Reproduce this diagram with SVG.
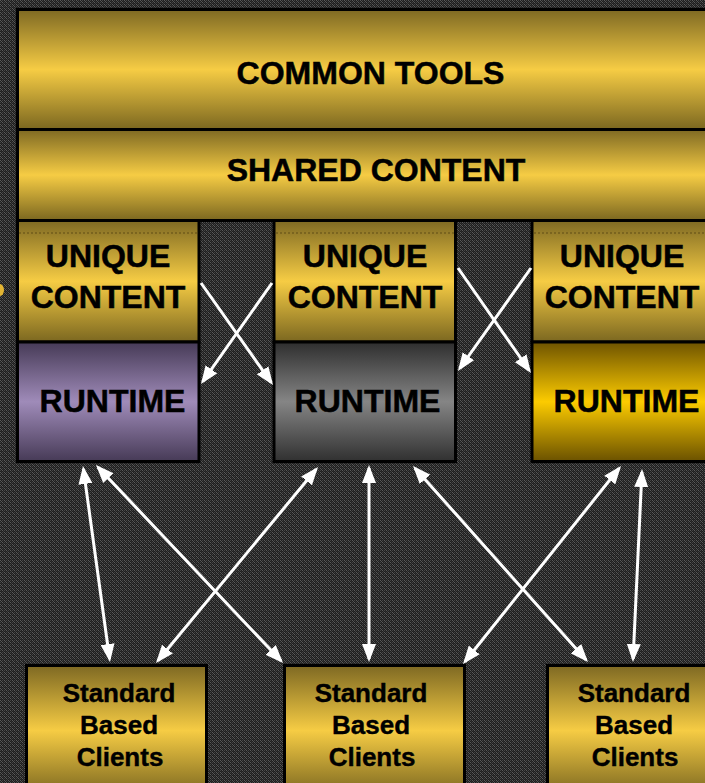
<svg xmlns="http://www.w3.org/2000/svg" width="705" height="783" viewBox="0 0 705 783">
  <defs>
    <pattern id="grain" width="4" height="4" patternUnits="userSpaceOnUse">
      <rect width="4" height="4" fill="#1e1e1e"/>
      <rect x="0" y="0" width="1" height="1" fill="#5a5a5a"/>
      <rect x="2" y="0" width="1" height="1" fill="#444444"/>
      <rect x="1" y="1" width="1" height="1" fill="#555555"/>
      <rect x="3" y="1" width="1" height="1" fill="#303030"/>
      <rect x="0" y="2" width="1" height="1" fill="#444444"/>
      <rect x="2" y="2" width="1" height="1" fill="#5a5a5a"/>
      <rect x="3" y="3" width="1" height="1" fill="#404040"/>
      <rect x="1" y="3" width="1" height="1" fill="#2c2c2c"/>
    </pattern>
    <linearGradient id="gold" x1="0" y1="0" x2="0" y2="1">
      <stop offset="0" stop-color="#7e6923"/>
      <stop offset="0.5" stop-color="#f6cc44"/>
      <stop offset="1" stop-color="#7b6720"/>
    </linearGradient>
    <linearGradient id="purple" x1="0" y1="0" x2="0" y2="1">
      <stop offset="0" stop-color="#463a56"/>
      <stop offset="0.5" stop-color="#9f8bb9"/>
      <stop offset="1" stop-color="#463a56"/>
    </linearGradient>
    <linearGradient id="grey" x1="0" y1="0" x2="0" y2="1">
      <stop offset="0" stop-color="#2e2e2e"/>
      <stop offset="0.5" stop-color="#858585"/>
      <stop offset="1" stop-color="#303030"/>
    </linearGradient>
    <linearGradient id="amber" x1="0" y1="0" x2="0" y2="1">
      <stop offset="0" stop-color="#6e5300"/>
      <stop offset="0.5" stop-color="#fccb00"/>
      <stop offset="1" stop-color="#6a5100"/>
    </linearGradient>
    <marker id="head" viewBox="0 0 18 14" markerWidth="18" markerHeight="14" refX="15" refY="7" markerUnits="userSpaceOnUse" orient="auto-start-reverse">
      <path d="M0,0 L18,7 L0,14 z" fill="#ffffff"/>
    </marker>
  </defs>
  <style>
    .box { stroke: #000000; stroke-width: 3; }
    .big { font-family: "Liberation Sans", Arial, sans-serif; font-weight: bold; font-size: 32px; fill: #000000; stroke: #000000; stroke-width: 0.5; text-anchor: middle; }
    .small { font-family: "Liberation Sans", Arial, sans-serif; font-weight: bold; font-size: 26px; fill: #000000; stroke: #000000; stroke-width: 0.4; text-anchor: middle; }
    .seam { stroke: #5e4c14; stroke-width: 1; stroke-dasharray: 2 2; fill: none; }
    .link { stroke: #ffffff; stroke-width: 3; fill: none; }
  </style>

  <rect width="705" height="783" fill="url(#grain)"/>

  <!-- small cut-off shape at the left edge -->
  <ellipse cx="0" cy="290" rx="4" ry="6" fill="#e3b533"/>

  <g id="common-tools">
    <rect class="box" x="17.5" y="9.5" width="700" height="120" fill="url(#gold)"/>
    <text class="big" x="370.5" y="84">COMMON TOOLS</text>
  </g>

  <g id="shared-content">
    <rect class="box" x="17.5" y="129.5" width="700" height="91" fill="url(#gold)"/>
    <text class="big" x="376" y="181">SHARED CONTENT</text>
  </g>

  <g id="unique-content-1">
    <rect class="box" x="17.5" y="220.5" width="181.5" height="121.5" fill="url(#gold)"/>
    <line class="seam" x1="19" y1="233" x2="197" y2="233"/>
    <text class="big" x="108" y="267">UNIQUE</text>
    <text class="big" x="108" y="308">CONTENT</text>
  </g>
  <g id="unique-content-2">
    <rect class="box" x="274" y="220.5" width="181.5" height="121.5" fill="url(#gold)"/>
    <line class="seam" x1="276" y1="233" x2="454" y2="233"/>
    <text class="big" x="365" y="267">UNIQUE</text>
    <text class="big" x="365" y="308">CONTENT</text>
  </g>
  <g id="unique-content-3">
    <rect class="box" x="532" y="220.5" width="181.5" height="121.5" fill="url(#gold)"/>
    <line class="seam" x1="534" y1="233" x2="712" y2="233"/>
    <text class="big" x="622" y="267">UNIQUE</text>
    <text class="big" x="622" y="308">CONTENT</text>
  </g>

  <g id="runtime-1">
    <rect class="box" x="17.5" y="342" width="181.5" height="119.5" fill="url(#purple)"/>
    <text class="big" x="112.5" y="412">RUNTIME</text>
  </g>
  <g id="runtime-2">
    <rect class="box" x="274" y="342" width="181.5" height="119.5" fill="url(#grey)"/>
    <text class="big" x="367.5" y="412">RUNTIME</text>
  </g>
  <g id="runtime-3">
    <rect class="box" x="532" y="342" width="181.5" height="119.5" fill="url(#amber)"/>
    <text class="big" x="626.5" y="412">RUNTIME</text>
  </g>

  <g id="client-1">
    <rect class="box" x="26.5" y="665.5" width="180" height="130" fill="url(#gold)"/>
    <text class="small" x="119" y="702">Standard</text>
    <text class="small" x="119" y="734">Based</text>
    <text class="small" x="120" y="766">Clients</text>
  </g>
  <g id="client-2">
    <rect class="box" x="284.5" y="665.5" width="180" height="130" fill="url(#gold)"/>
    <text class="small" x="371" y="702">Standard</text>
    <text class="small" x="371" y="734">Based</text>
    <text class="small" x="372" y="766">Clients</text>
  </g>
  <g id="client-3">
    <rect class="box" x="547.5" y="665.5" width="180" height="130" fill="url(#gold)"/>
    <text class="small" x="634" y="702">Standard</text>
    <text class="small" x="634" y="734">Based</text>
    <text class="small" x="635" y="766">Clients</text>
  </g>

  <g id="connectors">
    <!-- content to runtime crossovers -->
    <line class="link" x1="201" y1="283" x2="271.3" y2="382.6" marker-end="url(#head)"/>
    <line class="link" x1="272" y1="283" x2="202.7" y2="381.6" marker-end="url(#head)"/>
    <line class="link" x1="458" y1="268" x2="529.3" y2="370.5" marker-end="url(#head)"/>
    <line class="link" x1="531" y1="268" x2="459.7" y2="368.5" marker-end="url(#head)"/>
    <!-- runtime to client links -->
    <line class="link" x1="83.4" y1="469" x2="109.6" y2="659" marker-start="url(#head)" marker-end="url(#head)"/>
    <line class="link" x1="98" y1="467.2" x2="281" y2="660.8" marker-start="url(#head)" marker-end="url(#head)"/>
    <line class="link" x1="316.1" y1="469.3" x2="157.9" y2="660.7" marker-start="url(#head)" marker-end="url(#head)"/>
    <line class="link" x1="369" y1="468" x2="369" y2="659" marker-start="url(#head)" marker-end="url(#head)"/>
    <line class="link" x1="415" y1="468.2" x2="586" y2="659.8" marker-start="url(#head)" marker-end="url(#head)"/>
    <line class="link" x1="619.1" y1="468.3" x2="464.9" y2="661.7" marker-start="url(#head)" marker-end="url(#head)"/>
    <line class="link" x1="641.9" y1="472" x2="633.1" y2="659" marker-start="url(#head)" marker-end="url(#head)"/>
  </g>
</svg>
